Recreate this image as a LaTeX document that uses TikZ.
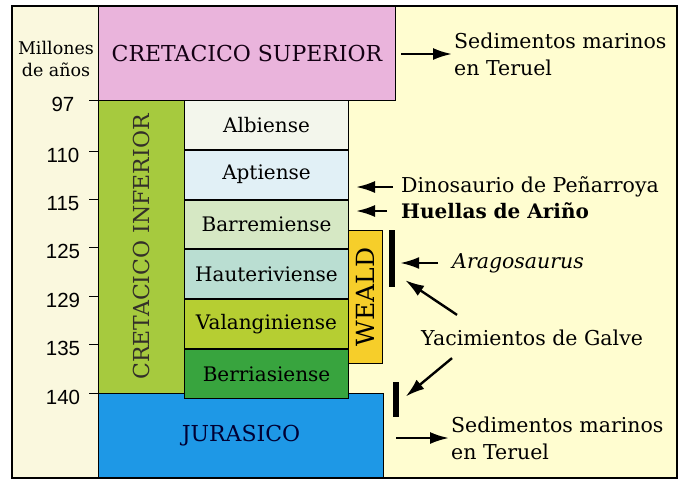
\documentclass[tikz,border=0pt]{standalone}
\usepackage{fontspec}
\setmainfont{DejaVu Serif}
\newfontfamily\numfont{Liberation Sans}
\usetikzlibrary{shapes,arrows,arrows.meta,positioning}
\definecolor{bgyellow}{RGB}{255,253,208}
\definecolor{scalecream}{RGB}{250,248,222}
\definecolor{suppink}{RGB}{234,180,220}
\definecolor{infgreen}{RGB}{166,202,62}
\definecolor{albwhite}{RGB}{243,246,236}
\definecolor{aptblue}{RGB}{225,240,246}
\definecolor{barrgreen}{RGB}{214,232,196}
\definecolor{hautteal}{RGB}{186,222,210}
\definecolor{valyellow}{RGB}{182,206,50}
\definecolor{berrgreen}{RGB}{56,164,62}
\definecolor{wealdorange}{RGB}{246,206,42}
\definecolor{jurblue}{RGB}{30,152,230}

\tikzset{
  period/.style={draw, line width=1pt, anchor=north west, inner sep=0pt},
  stage/.style={draw, line width=1pt, minimum width=164pt, minimum height=48.8pt, inner sep=0pt, font=\fontsize{20}{22}\selectfont},
  bigtext/.style={font=\fontsize{22}{24}\selectfont},
  note/.style={anchor=west, inner sep=3pt, align=left, font=\fontsize{20.5}{27}\selectfont},
  arr/.style={-{Latex[length=19pt,width=12pt]}, line width=2.4pt},
  bar/.style={fill=black, inner sep=0pt, minimum width=6pt}
}

\begin{document}
\begin{tikzpicture}[x=1pt, y=-1pt]
\useasboundingbox (0,0) rectangle (683,480);
\fill[white] (0,0) rectangle (683,480);
\fill[bgyellow] (12,6) rectangle (677,478);
\fill[scalecream] (12,6) rectangle (98,478);

% Periods
\node[period, fill=suppink, minimum width=297pt, minimum height=94pt] (sup) at (98,6) {};
\node[bigtext, text=black!85!violet] (supl) at (sup.center) {CRETACICO SUPERIOR};
\node[period, fill=infgreen, minimum width=86pt, minimum height=293pt] (inf) at (98,100) {};
\node[bigtext, rotate=90, text=black!85!olive] (infl) at (inf.center) {CRETACICO INFERIOR};
\node[period, fill=jurblue, minimum width=285pt, minimum height=85pt] (jur) at (98,393) {};
\node[bigtext, text=black!80!blue] (jurl) at (jur.center) {JURASICO};

% Stages
\node[stage, fill=albwhite, anchor=north west] (alb) at (184,100) {Albiense};
\node[stage, fill=aptblue, below=0pt of alb] (apt) {Aptiense};
\node[stage, fill=barrgreen, below=0pt of apt] (barr) {Barremiense};
\node[stage, fill=hautteal, below=0pt of barr] (haut) {Hauteriviense};
\node[stage, fill=valyellow, below=0pt of haut] (val) {Valanginiense};
\node[stage, fill=berrgreen, below=0pt of val] (berr) {Berriasiense};

% Weald
\node[period, fill=wealdorange, minimum width=34pt, minimum height=133pt] (weald) at (348,230) {};
\node[font=\fontsize{25}{26}\selectfont, rotate=90] (wealdl) at (weald.center) {WEALD};

% Age scale
\node[font=\fontsize{17.5}{22}\selectfont, align=center, inner sep=0pt] (myr) at (56,59) {Millones\\de años};
\foreach \val/\yy in {97/100,110/151,115/199,125/247,129/296,135/344,140/393}{
  \draw[line width=1pt] (89,\yy) -- (98,\yy);
  \node[inner sep=0pt, font=\numfont\fontsize{20.5}{22}\selectfont] (t\val) at (63,\yy+4.5) {\val};
}

% Fossil ranges
\node[bar, minimum height=57pt] (bar1) at (392,258.5) {};
\node[bar, minimum height=35pt] (bar2) at (395.5,399.5) {};

% Notes
\node[note] (sedA) at (451,54) {Sedimentos marinos\\en Teruel};
\node[note] (dino) at (398,187) {Dinosaurio de Peñarroya};
\node[note, font=\bfseries\fontsize{20}{22}\selectfont] (huellas) at (398,211) {Huellas de Ariño};
\node[note, font=\itshape\fontsize{20.5}{22}\selectfont] (arago) at (449,263) {Aragosaurus};
\node[note] (galve) at (418,338) {Yacimientos de Galve};
\node[note] (sedB) at (448,438) {Sedimentos marinos\\en Teruel};

% Arrows
\draw[arr, shorten <=5pt] (sup.east |- sedA.west) -- ([xshift=1pt]sedA.west);
\draw[arr, shorten <=5pt] (dino.west) -- ([xshift=7pt]dino.west -| apt.east);
\draw[arr, shorten <=11pt] (huellas.west) -- ([xshift=7pt]huellas.west -| barr.east);
\draw[arr, shorten <=11pt] (arago.west) -- ([xshift=5pt]arago.west -| bar1.east);
\draw[arr] ([xshift=39pt,yshift=12pt]galve.north west) -- ([xshift=10pt,yshift=7pt]bar1.south east);
\draw[arr] ([xshift=34pt,yshift=-9pt]galve.south west) -- ([xshift=7pt,yshift=3pt]bar2.east);
\draw[arr, shorten <=12pt] (jur.east |- sedB.west) -- ([xshift=1pt]sedB.west);

% Frame
\draw[line width=2pt] (12,6) rectangle (677,478);
\end{tikzpicture}
\end{document}
